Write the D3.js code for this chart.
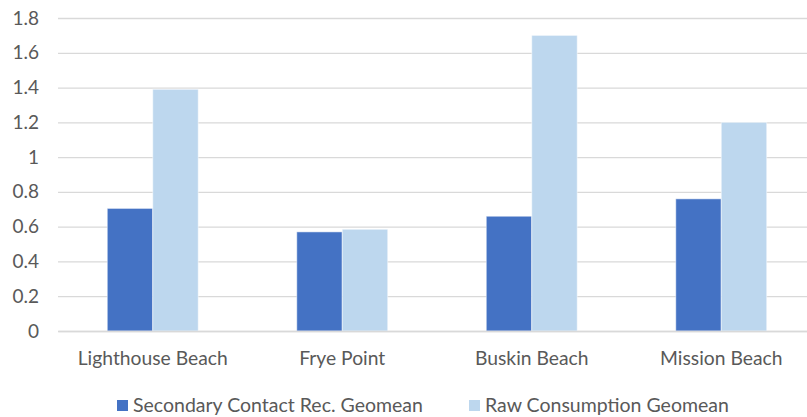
<!DOCTYPE html>
<html>
  <head>
    <style>
    body {
        margin: 0px;
        overflow: hidden;
        background: #fff;
    }
    text {
        font-family: Lato, sans-serif;
        fill: #595959;
    }
    </style>
    <script src="https://d3js.org/d3.v7.min.js"></script>
  </head>
  <body>
    <svg width="807" height="417"></svg>
    <script>
        //chart data
        const beaches = ['Lighthouse Beach', 'Frye Point', 'Buskin Beach', 'Mission Beach'];
        const seriesNames = ['Secondary Contact Rec. Geomean', 'Raw Consumption Geomean'];
        const secondaryContact = [0.705, 0.57, 0.66, 0.76];
        const rawConsumption = [1.39, 0.585, 1.70, 1.20];
        const yTicks = [0, 0.2, 0.4, 0.6, 0.8, 1, 1.2, 1.4, 1.6, 1.8];
        const colors = ['#4472C4', '#BDD7EE'];

        const data = beaches.map((b, i) => ({beach: b, values: [secondaryContact[i], rawConsumption[i]]}));

        const svg = d3.select('svg');

        const margin = { top: 18, left: 58, right: 816, bottom: 331 };

        //y scale
        const yScale = d3.scaleLinear()
            .domain([0, 1.8])
            .range([margin.bottom, margin.top]);

        //outer x scale for the beaches
        const x0 = d3.scaleBand()
            .domain(beaches)
            .range([margin.left, margin.right])
            .padding(0);

        //inner x scale for the two series
        const x1 = d3.scaleBand()
            .domain([0, 1])
            .range([x0.bandwidth() * 0.26, x0.bandwidth() * 0.74])
            .padding(0);

        //gridlines
        const yAxis = d3.axisLeft(yScale)
            .tickValues(yTicks)
            .tickSize(-(margin.right - margin.left))
            .tickPadding(19)
            .tickFormat(d => d3.format('')(d));

        const yAxisG = svg.append('g')
            .attr('transform', `translate(${margin.left},0)`)
            .call(yAxis);
        yAxisG.select('.domain').remove();
        yAxisG.selectAll('.tick line')
            .attr('stroke', '#D9D9D9')
            .attr('stroke-width', 1.3);
        yAxisG.selectAll('.tick text')
            .attr('font-size', '19px')
            .attr('font-family', 'Lato, sans-serif')
            .attr('fill', '#595959');

        //bars
        const groups = svg.selectAll('.group').data(data)
            .enter().append('g')
                .attr('class', 'group')
                .attr('transform', d => `translate(${x0(d.beach)},0)`);

        groups.selectAll('rect').data(d => d.values)
            .enter().append('rect')
                .attr('x', (d, i) => x1(i))
                .attr('y', d => yScale(d))
                .attr('width', x1.bandwidth())
                .attr('height', d => yScale(0) - yScale(d))
                .attr('fill', (d, i) => colors[i])
                .attr('stroke', '#fff')
                .attr('stroke-opacity', 0.5)
                .attr('stroke-width', 1);

        //x axis
        const xAxis = d3.axisBottom(x0).tickSize(0).tickPadding(20);
        const xAxisG = svg.append('g')
            .attr('transform', `translate(0,${margin.bottom})`)
            .call(xAxis);
        xAxisG.select('.domain')
            .attr('stroke', '#D9D9D9')
            .attr('stroke-width', 1.3);
        xAxisG.selectAll('.tick text')
            .attr('font-size', '19.3px')
            .attr('font-family', 'Lato, sans-serif')
            .attr('fill', '#595959');

        //legend
        const legendX = [117, 469];
        const legend = svg.selectAll('.legend').data(seriesNames)
            .enter().append('g')
                .attr('class', 'legend')
                .attr('transform', (d, i) => `translate(${legendX[i]},400)`);

        legend.append('rect')
            .attr('width', 11)
            .attr('height', 11)
            .attr('fill', (d, i) => colors[i]);

        legend.append('text')
            .attr('x', 16)
            .attr('y', 11.5)
            .attr('font-size', '19.5px')
            .text(d => d);
    </script>
  </body>
</html>
